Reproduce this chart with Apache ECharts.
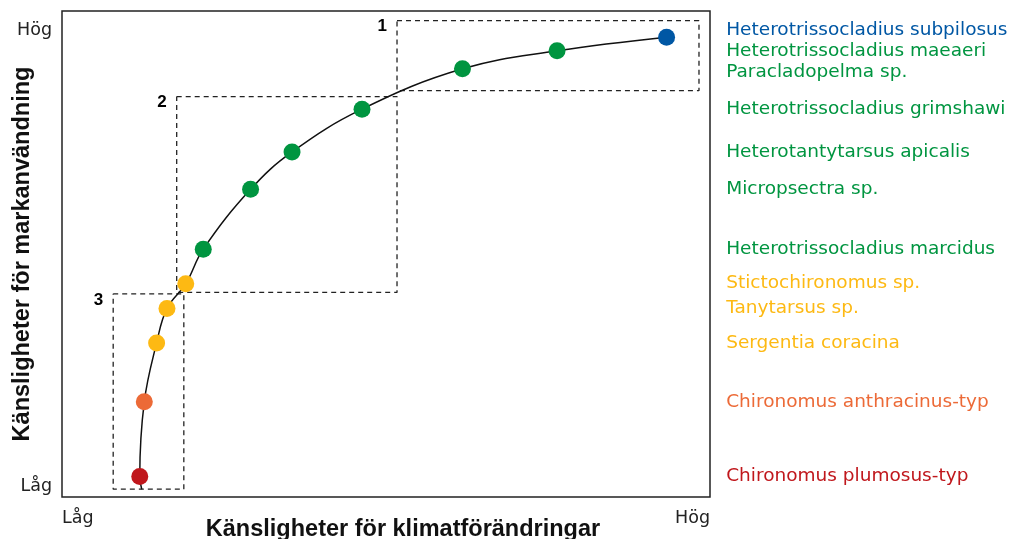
<!DOCTYPE html>
<html>
<head>
<meta charset="utf-8">
<script src="https://cdn.jsdelivr.net/npm/echarts@6/dist/echarts.min.js"></script>
<style>
  html, body { margin: 0; padding: 0; background: #fff; }
  #chart { width: 1017px; height: 539px; }
</style>
</head>
<body>
<div id="chart"></div>
<script>
// arter, ordnade från låg till hög känslighet
const species = [
  'Chironomus plumosus-typ', 'Chironomus anthracinus-typ', 'Sergentia coracina',
  'Tanytarsus sp.', 'Stictochironomus sp.', 'Heterotrissocladius marcidus',
  'Micropsectra sp.', 'Heterotantytarsus apicalis', 'Heterotrissocladius grimshawi',
  'Paracladopelma sp.', 'Heterotrissocladius maeaeri', 'Heterotrissocladius subpilosus'
];
// känslighet för klimatförändringar (x) och markanvändning (y), skala 0-100
const climateSens = [12.0, 12.7, 14.6, 16.2, 19.1, 21.8, 29.1, 35.5, 46.3, 61.8, 76.4, 93.3];
const landSens = [4.2, 19.6, 31.7, 38.8, 43.9, 51.0, 63.3, 71.0, 79.8, 88.1, 91.8, 94.6];
const groups = ['red', 'orange', 'yellow', 'yellow', 'yellow', 'green',
  'green', 'green', 'green', 'green', 'green', 'blue'];
// kurvan börjar strax under första punkten
const curveStart = [12.3, 1.6];

// grupperingsrutor
const boxNames = ['1', '2', '3'];
const boxX0 = [51.7, 17.7, 7.9];
const boxX1 = [98.3, 51.7, 18.8];
const boxY0 = [83.6, 42.1, 1.6];
const boxY1 = [98.0, 82.4, 41.8];

// axeltexter
const xTickValues = [0, 100];
const xTickLabels = ['Låg', 'Hög'];
const yTickValues = [2.1, 96.1];
const yTickLabels = ['Låg', 'Hög'];

const COLORS = {
  red: '#c0171c',
  orange: '#ec6a37',
  yellow: '#fdb913',
  green: '#009540',
  blue: '#0057a4'
};
const FONT = 'DejaVu Sans';
const TITLE_FONT = 'Liberation Sans';

// förskjutning av namnen så de inte krockar
const nameOffset = { 9: 3, 11: -7 };

const chart = echarts.init(document.getElementById('chart'));

const points = climateSens.map((x, i) => ({
  value: [x, landSens[i]],
  itemStyle: { color: COLORS[groups[i]], opacity: 1 }
}));

const nameLabels = species.map((s, i) => ({
  value: [102.5, landSens[i]],
  label: {
    show: true,
    position: 'right',
    distance: 0,
    offset: [0, nameOffset[i] || 0],
    formatter: s,
    color: COLORS[groups[i]],
    fontFamily: FONT,
    fontSize: 18.5,
    opacity: 1
  }
}));

const boxSeries = boxNames.map((name, i) => ({
  type: 'line',
  name: 'box' + name,
  data: [
    [boxX0[i], boxY1[i]], [boxX1[i], boxY1[i]], [boxX1[i], boxY0[i]],
    [boxX0[i], boxY0[i]], [boxX0[i], boxY1[i]]
  ],
  symbol: 'none',
  lineStyle: { color: '#222', width: 1.3, type: [5, 4] },
  silent: true,
  z: 1
}));

const option = {
  animation: false,
  grid: {
    left: 62, top: 11, right: 307, bottom: 42,
    show: true,
    borderColor: '#222',
    borderWidth: 1.5,
    outerBoundsMode: 'none'
  },
  xAxis: {
    type: 'value',
    min: 0, max: 100,
    name: 'Känsligheter för klimatförändringar',
    nameLocation: 'middle',
    nameGap: 21,
    nameMoveOverlap: false,
    nameTextStyle: {
      fontFamily: TITLE_FONT, fontWeight: 'bold', fontSize: 23.5, color: '#111',
      padding: [0, 0, 0, 34]
    },
    axisLine: { show: false },
    axisTick: { show: false },
    splitLine: { show: false },
    axisLabel: {
      customValues: xTickValues,
      formatter: v => xTickLabels[xTickValues.indexOf(v)] || '',
      alignMinLabel: 'left',
      alignMaxLabel: 'right',
      margin: 12,
      fontFamily: FONT, fontSize: 17.5, color: '#222'
    }
  },
  yAxis: {
    type: 'value',
    min: 0, max: 100,
    name: 'Känsligheter för markanvändning',
    nameLocation: 'middle',
    nameGap: 27,
    nameRotate: 90,
    nameMoveOverlap: false,
    nameTextStyle: { fontFamily: TITLE_FONT, fontWeight: 'bold', fontSize: 23.5, color: '#111' },
    axisLine: { show: false },
    axisTick: { show: false },
    splitLine: { show: false },
    axisLabel: {
      customValues: yTickValues,
      formatter: v => yTickLabels[yTickValues.indexOf(v)] || '',
      margin: 10,
      fontFamily: FONT, fontSize: 17.5, color: '#222'
    }
  },
  series: [
    ...boxSeries,
    {
      type: 'scatter',
      name: 'boxLabels',
      data: boxNames.map((n, i) => ({
        value: [boxX0[i], boxY1[i]],
        label: { formatter: n }
      })),
      symbolSize: 0,
      itemStyle: { opacity: 1 },
      label: {
        show: true,
        position: 'left',
        distance: 10,
        offset: [0, 6],
        fontFamily: TITLE_FONT, fontWeight: 'bold', fontSize: 17, color: '#000'
      },
      silent: true,
      z: 2
    },
    {
      type: 'line',
      name: 'curve',
      data: [curveStart, ...climateSens.map((x, i) => [x, landSens[i]])],
      smooth: 0.4,
      symbol: 'none',
      lineStyle: { color: '#111', width: 1.5 },
      silent: true,
      z: 3
    },
    {
      type: 'scatter',
      name: 'species',
      data: points,
      symbolSize: 17,
      z: 4
    },
    {
      type: 'scatter',
      name: 'names',
      data: nameLabels,
      symbolSize: 0,
      itemStyle: { opacity: 1 },
      clip: false,
      silent: true,
      z: 5
    }
  ]
};

chart.setOption(option);
</script>
</body>
</html>
